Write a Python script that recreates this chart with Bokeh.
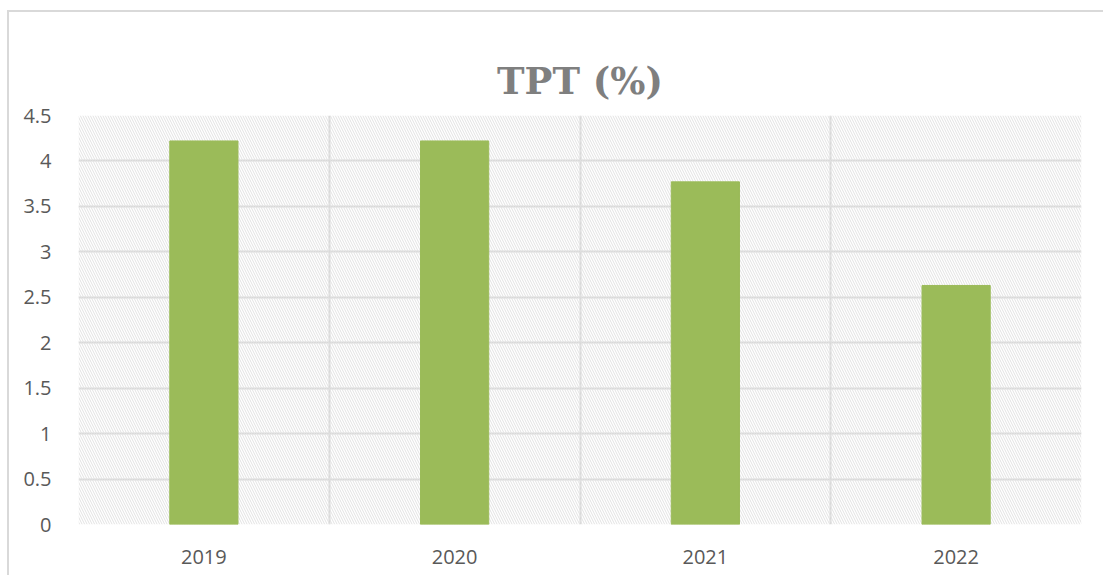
from bokeh.plotting import figure
from bokeh.models import FixedTicker, NumeralTickFormatter, BoxAnnotation, Range1d, ColumnDataSource
from bokeh.embed import file_html
from bokeh.resources import INLINE

years = ["2019", "2020", "2021", "2022"]
tpt = [4.22, 4.22, 3.77, 2.63]
y_ticks = [0, 0.5, 1, 1.5, 2, 2.5, 3, 3.5, 4, 4.5]

xs = [i + 0.5 for i in range(len(years))]
src = ColumnDataSource(dict(x=xs, top=tpt))

p = figure(width=1096, height=565, output_backend="svg", toolbar_location=None,
           x_range=Range1d(0, len(years)), y_range=Range1d(0, 4.5),
           min_border_left=69, min_border_right=24, min_border_top=103, min_border_bottom=53,
           title="TPT (%)",
           styles={"margin": "10px 0 0 7px",
                   "border-top": "2px solid #d9d9d9", "border-left": "2px solid #d9d9d9"})
p.outline_line_color = None
p.background_fill_color = "white"
p.border_fill_color = "white"

p.title.align = "center"
p.title.text_font = "DejaVu Serif"
p.title.text_font_style = "bold"
p.title.text_font_size = "37px"
p.title.text_color = "#7f7f7f"
p.title.standoff = 26

hatch = BoxAnnotation(fill_color=None, line_color=None, hatch_pattern="\\",
                      hatch_color="#e2e2e2", hatch_scale=5, hatch_weight=1, level="underlay")
p.add_layout(hatch)

p.vbar(x="x", top="top", width=0.272, source=src, color="#9BBB59")

p.xaxis.ticker = FixedTicker(ticks=xs)
p.xaxis.major_label_overrides = {x: y for x, y in zip(xs, years)}
p.yaxis.ticker = FixedTicker(ticks=y_ticks)
p.yaxis.formatter = NumeralTickFormatter(format="0.[0]")
for ax in (p.xaxis[0], p.yaxis[0]):
    ax.axis_line_color = None
    ax.major_tick_line_color = None
    ax.minor_tick_line_color = None
    ax.major_label_text_font = "Open Sans"
    ax.major_label_text_font_size = "20px"
    ax.major_label_text_color = "#595959"
p.yaxis.major_label_standoff = 21
p.xaxis.major_label_standoff = 19

p.xgrid.ticker = FixedTicker(ticks=list(range(len(years) + 1)))
p.xgrid.grid_line_color = "#d9d9d9"
p.xgrid.grid_line_width = 2
p.ygrid.ticker = FixedTicker(ticks=y_ticks)
p.ygrid.grid_line_color = "#d9d9d9"
p.ygrid.grid_line_width = 2

open("out.html", "w").write(file_html(p, INLINE))
